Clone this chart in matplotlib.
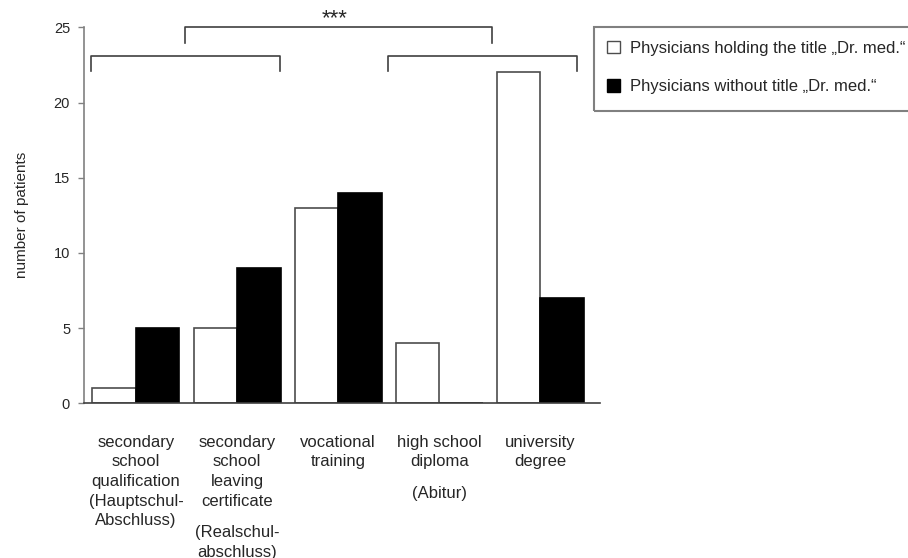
import numpy as np
import matplotlib
matplotlib.use('Agg')
import matplotlib.pyplot as plt
from matplotlib.patches import Patch, Rectangle

plt.rcParams['font.family'] = ['Liberation Sans', 'DejaVu Sans']

# Data
categories = ['secondary\nschool\nqualification\n(Hauptschul-\nAbschluss)',
              'secondary\nschool\nleaving\ncertificate',
              'vocational\ntraining',
              'high school\ndiploma',
              'university\ndegree']
sub_labels = ['', '(Realschul-\nabschluss)', '', '(Abitur)', '']
with_title = [1, 5, 13, 4, 22]
without_title = [5, 9, 14, 0, 7]
legend_labels = ['Physicians holding the title \u201eDr. med.\u201c',
                 'Physicians without title \u201eDr. med.\u201c']
yticks = [0, 5, 10, 15, 20, 25]

text_color = '#262626'
grey = '#808080'

fig = plt.figure(figsize=(9.08, 5.58), dpi=100)
ax = fig.add_axes([84 / 908, 1 - 403.3 / 558, 516 / 908, 376 / 558])

x = np.arange(len(categories))
w = 0.43
ax.bar(x - w / 2, with_title, w, color='white', edgecolor='#4d4d4d', linewidth=1.2)
ax.bar(x + w / 2, without_title, w, color='black', edgecolor='black', linewidth=1.2)

ax.set_xlim(-0.514, 4.59)
ax.set_ylim(0, 25)

for s in ['top', 'right']:
    ax.spines[s].set_visible(False)
ax.spines['left'].set_color(grey)
ax.spines['left'].set_linewidth(1.2)
ax.spines['bottom'].set_color('#404040')
ax.spines['bottom'].set_linewidth(1.2)

ax.set_yticks(yticks)
ax.tick_params(axis='y', length=4, width=1, color=grey, pad=6,
               labelsize=10.5, labelcolor=text_color)

# category labels
pad_pt = 22.5
linesp = 1.39
ax.set_xticks(x)
ax.set_xticklabels(categories, fontsize=12, linespacing=linesp, color=text_color)
ax.tick_params(axis='x', length=0, pad=pad_pt)

# second (bracketed) part of the labels, set a bit lower
for i, sub in enumerate(sub_labels):
    if not sub:
        continue
    n = categories[i].count('\n') + 1
    off = pad_pt + ((n - 1) * 19.3 + 32.5) * 0.72
    ax.annotate(sub, xy=(i, 0), xycoords=('data', 'axes fraction'),
                xytext=(0, -off), textcoords='offset points',
                ha='center', va='top', fontsize=12, linespacing=linesp,
                color=text_color)

ax.set_ylabel('number of patients', fontsize=11, color=text_color, labelpad=18)

# significance brackets
bk = dict(color='#404040', linewidth=1.2, clip_on=False)
ax.plot([-0.445, -0.445, 1.424, 1.424], [22.1, 23.1, 23.1, 22.1], **bk)
ax.plot([2.49, 2.49, 4.36, 4.36], [22.1, 23.1, 23.1, 22.1], **bk)
ax.plot([0.485, 0.485, 3.52, 3.52], [23.95, 25.0, 25.0, 23.95], **bk)
ax.text(1.97, 25.6, '***', ha='center', va='center', fontsize=16, color=text_color)

handles = [Patch(facecolor='white', edgecolor='#4d4d4d', linewidth=1),
           Patch(facecolor='black', edgecolor='black', linewidth=1)]
leg = fig.legend(handles, legend_labels, loc='upper left',
                 bbox_to_anchor=(595 / 908, 1 - 29 / 558), borderaxespad=0,
                 fontsize=12, handlelength=0.8, handleheight=0.8,
                 handletextpad=0.6, labelspacing=1.4, borderpad=0.7,
                 frameon=False)
for t in leg.get_texts():
    t.set_color(text_color)
# legend box runs past the right edge of the figure
fig.patches.append(Rectangle((594 / 908, 1 - 111 / 558), 330 / 908, 84 / 558,
                             transform=fig.transFigure, fill=False,
                             edgecolor=grey, linewidth=1.5))

plt.savefig('out.png', dpi=100)
